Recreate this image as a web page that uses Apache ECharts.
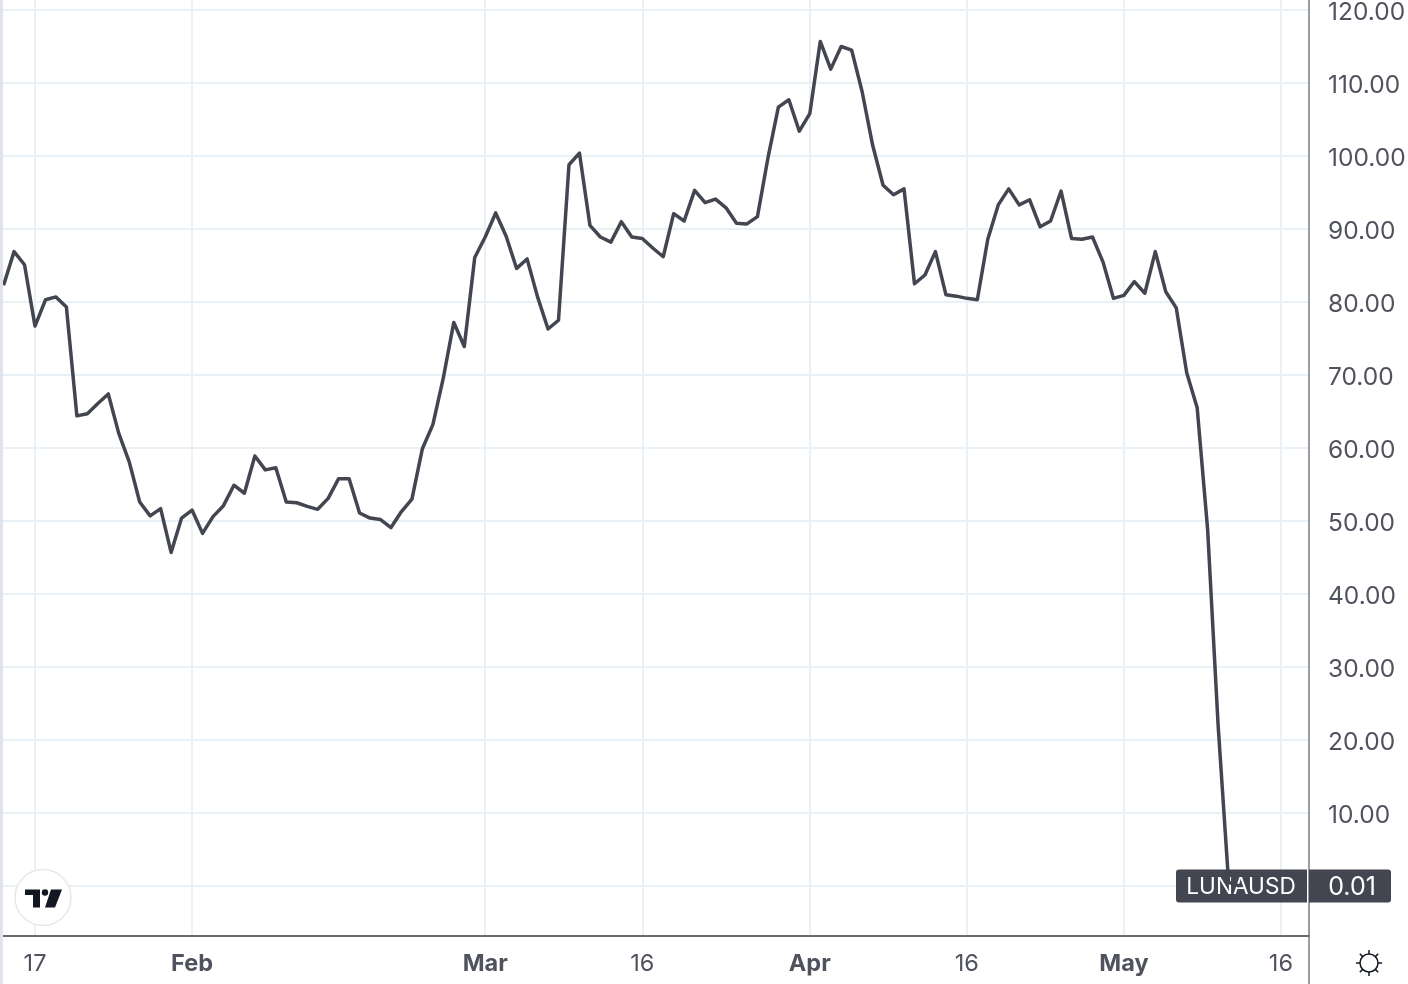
<!DOCTYPE html>
<html><head><meta charset="utf-8">
<style>html,body{margin:0;padding:0;background:#fff}#c{width:1408px;height:984px}</style>
<script src="https://cdn.jsdelivr.net/npm/echarts@6/dist/echarts.min.js"></script>
</head><body><div id="c"></div>
<script>
const startDate = '2022-01-14';
const prices = [82.3,86.9,85.1,76.7,80.3,80.7,79.3,64.4,64.7,66.1,67.4,62.0,58.1,52.6,50.7,51.7,45.7,50.4,51.5,48.3,
50.6,52.1,54.9,53.8,58.9,57.0,57.3,52.6,52.5,52.0,51.6,53.1,55.8,55.8,51.1,50.4,50.2,49.1,51.3,53.0,
59.9,63.2,69.6,77.2,73.9,86.1,88.9,92.2,89.0,84.6,85.9,80.7,76.3,77.5,98.8,100.4,90.5,88.9,88.2,91.0,
88.9,88.7,87.4,86.2,92.1,91.1,95.3,93.6,94.1,92.9,90.8,90.7,91.7,99.7,106.7,107.7,103.4,105.8,115.7,111.9,
115.0,114.5,108.8,101.5,96.0,94.7,95.5,82.5,83.7,86.9,81.0,80.8,80.5,80.3,88.6,93.3,95.5,93.3,94.0,90.3,
91.1,95.2,88.7,88.6,88.9,85.5,80.5,80.9,82.8,81.2,86.9,81.4,79.2,70.3,65.5,48.8,22.0,0.5,0.01];
const priceTicks = [10,20,30,40,50,60,70,80,90,100,110,120];
const priceGrid = [0,10,20,30,40,50,60,70,80,90,100,110,120];
const timeTicks = ['2022-01-17','2022-02-01','2022-03-01','2022-03-16','2022-04-01','2022-04-16','2022-05-01','2022-05-16'];
const timeLabels = ['17','Feb','Mar','16','Apr','16','May','16'];
const symbolName = 'LUNAUSD';
const lastPrice = '0.01';

const DAY = 86400000;
const utc = s => new Date(s + 'T00:00:00Z').getTime();
const base = utc('2022-01-17');
const dayOf = s => Math.round((utc(s) - base) / DAY);
const d0 = dayOf(startDate);
const seriesData = prices.map((v, i) => [d0 + i, v]);
const tickDays = timeTicks.map(dayOf);
const labelOf = {};
tickDays.forEach((t, i) => labelOf[t] = timeLabels[i]);

const gridColor = '#e9f0f6';
const textColor = '#50535e';
const lineColor = '#434651';
const chart = echarts.init(document.getElementById('c'), null, {renderer: 'canvas'});
const ff = 'Inter';
chart.setOption({
  animation: false,
  backgroundColor: '#fff',
  grid: {left: 3, right: 99, top: 0, bottom: 48, containLabel: false, outerBoundsMode: 'none'},
  xAxis: {
    type: 'value',
    min: -3.056,
    max: 121.68,
    axisLine: {show: true, onZero: false, lineStyle: {color: '#6a6a6a', width: 2}},
    axisTick: {show: false, customValues: tickDays},
    axisLabel: {
      customValues: tickDays, margin: 16, hideOverlap: false, showMinLabel: true, showMaxLabel: true,
      formatter: v => { const s = labelOf[v] || ''; return /\d/.test(s) ? '{d|' + s + '}' : '{m|' + s + '}'; },
      rich: {
        d: {fontFamily: ff, fontSize: 23.5, color: textColor},
        m: {fontFamily: ff, fontSize: 23.5, fontWeight: 700, color: textColor}
      }
    },
    splitLine: {show: true, customValues: tickDays, lineStyle: {color: gridColor, width: 2}}
  },
  yAxis: {
    type: 'value',
    position: 'right',
    min: -6.85,
    max: 121.37,
    axisLine: {show: true, onZero: false, lineStyle: {color: '#787b86', width: 1.5}},
    axisTick: {show: false, customValues: priceGrid},
    axisLabel: {
      customValues: priceTicks, margin: 19, fontFamily: ff, fontSize: 24.5, color: textColor,
      verticalAlign: 'top', lineHeight: 6,
      showMinLabel: true, showMaxLabel: true,
      formatter: v => v.toFixed(2)
    },
    splitLine: {show: true, customValues: priceGrid, lineStyle: {color: gridColor, width: 2}}
  },
  series: [{
    type: 'line', data: seriesData, showSymbol: false, smooth: false, z: 5,
    lineStyle: {color: lineColor, width: 3.5, join: 'round'}
  }]
});

const yLast = chart.convertToPixel({yAxisIndex: 0}, 0);
const tvBlack = '#131722';
const rays = [];
for (let i = 0; i < 8; i++) {
  const a = i * Math.PI / 4, c = Math.cos(a), s = Math.sin(a);
  rays.push({type: 'line', shape: {x1: 1369 + 9 * c, y1: 963 + 9 * s, x2: 1369 + 13 * c, y2: 963 + 13 * s},
    style: {stroke: '#131722', lineWidth: 1.5}, z: 20});
}
chart.setOption({graphic: {elements: [
  {type: 'rect', shape: {x: 0, y: 0, width: 3, height: 984}, style: {fill: '#e0e3eb'}, z: 20},
  {type: 'line', shape: {x1: 1309, y1: 936, x2: 1309, y2: 984}, style: {stroke: '#787b86', lineWidth: 1.5}, z: 20},
  {type: 'rect', shape: {x: 1176, y: yLast - 16.5, width: 131, height: 33, r: [3, 0, 0, 3]}, style: {fill: lineColor}, z: 1},
  {type: 'text', x: 1241, y: yLast + 1.5, style: {text: symbolName, fill: '#fff', font: '22.6px Inter', align: 'center', verticalAlign: 'middle'}, z: 1},
  {type: 'rect', shape: {x: 1309, y: yLast - 16.5, width: 82, height: 33, r: [0, 3, 3, 0]}, style: {fill: lineColor}, z: 20},
  {type: 'text', x: 1352, y: yLast + 1.5, style: {text: lastPrice, fill: '#fff', font: '25px Inter', align: 'center', verticalAlign: 'middle'}, z: 21},
  {type: 'circle', shape: {cx: 43, cy: 897.5, r: 28}, style: {fill: '#fff', stroke: '#e8e8e8', lineWidth: 1.5}, z: 20},
  {type: 'polygon', shape: {points: [[25,889.5],[40,889.5],[40,907.5],[33,907.5],[33,895],[25,895]]}, style: {fill: tvBlack}, z: 21},
  {type: 'circle', shape: {cx: 45, cy: 892.5, r: 3.2}, style: {fill: tvBlack}, z: 21},
  {type: 'polygon', shape: {points: [[51,889.5],[62,889.5],[55,907.5],[45,907.5]]}, style: {fill: tvBlack}, z: 21},
  {type: 'circle', shape: {cx: 1369, cy: 963, r: 9}, style: {fill: '#fff', stroke: '#131722', lineWidth: 1.5}, z: 20},
  ...rays
]}});
</script></body></html>
